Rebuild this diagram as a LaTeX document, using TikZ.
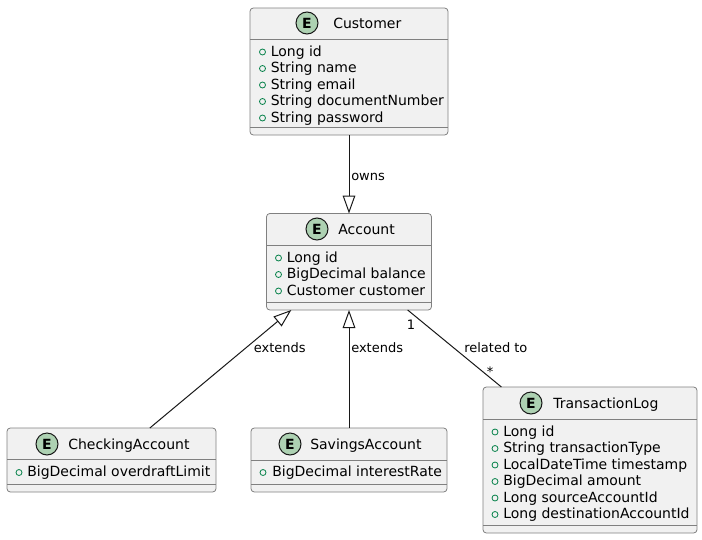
\documentclass[tikz,border=0pt]{standalone}
\usepackage{fontspec}
\setmainfont{DejaVu Sans}
\usetikzlibrary{arrows.meta}
\definecolor{boxfill}{HTML}{F1F1F1}
\definecolor{boxline}{HTML}{181818}
\definecolor{boxedge}{HTML}{808080}
\definecolor{badgefill}{HTML}{ADD1B2}
\definecolor{fieldgreen}{HTML}{038048}

\begin{document}
\begin{tikzpicture}[
      x=0.75pt, y=-0.75pt,
      entity/.style={draw=boxedge, fill=boxfill, rounded corners=2.5pt, line width=0.6pt, inner sep=0pt, outer sep=0pt},
      sepline/.style={draw=boxedge, line width=0.6pt},
      badge/.style={circle, draw=boxline, fill=badgefill, line width=0.75pt, minimum size=16.5pt, inner sep=0pt, font=\fontsize{10.5}{12}\selectfont\bfseries},
      heading/.style={anchor=base west, inner sep=0pt, font=\fontsize{10.5}{12}\selectfont},
      attr/.style={anchor=base west, inner sep=0pt, font=\fontsize{10.5}{12}\selectfont},
      field/.style={draw=fieldgreen, line width=0.6pt},
      lbl/.style={inner sep=0pt, font=\fontsize{9.75}{11}\selectfont},
      conn/.style={draw=boxline, line width=0.75pt},
      >={Triangle[open, length=13.5pt, width=9.5pt]}
    ]
    \useasboundingbox (0,0) rectangle (702,539);

    % Customer
    \node[entity, minimum width=148.5pt, minimum height=95.25pt] (cust) at (349,71.5) {};
    \draw[sepline] (250,39) -- (448,39);
    \draw[sepline] (250,127) -- (448,127);
    \node[badge] (cust-e) at (307,23) {E};
    \node[heading] (cust-t) at (333,28.5) {Customer};
    \foreach \txt [count=\i] in {Long id, String name, String email, String documentNumber, String password} {
      \node[attr] (cust-a\i) at (270.5,39.5+16.5*\i) {\txt};
      \draw[field] (262.5,35.5+16.5*\i) circle[radius=2.25pt];
    }

    % Account
    \node[entity, minimum width=123.75pt, minimum height=72.375pt] (acct) at (349,261.75) {};
    \draw[sepline] (266.5,245) -- (431.5,245);
    \draw[sepline] (266.5,302) -- (431.5,302);
    \node[badge] (acct-e) at (317,229) {E};
    \node[heading] (acct-t) at (338,234.5) {Account};
    \foreach \txt [count=\i] in {Long id, BigDecimal balance, Customer customer} {
      \node[attr] (acct-a\i) at (286.5,245.5+16.5*\i) {\txt};
      \draw[field] (278.5,241.5+16.5*\i) circle[radius=2.25pt];
    }

    % CheckingAccount
    \node[entity, minimum width=156.75pt, minimum height=48pt] (chk) at (111.5,460) {};
    \draw[sepline] (7,459) -- (216,459);
    \draw[sepline] (7,484) -- (216,484);
    \node[badge] (chk-e) at (47,444) {E};
    \node[heading] (chk-t) at (68,449) {CheckingAccount};
    \node[attr] (chk-a1) at (27,476.5) {BigDecimal overdraftLimit};
    \draw[field] (19,472.5) circle[radius=2.25pt];

    % SavingsAccount
    \node[entity, minimum width=147pt, minimum height=48pt] (sav) at (349,460) {};
    \draw[sepline] (251,460) -- (447,460);
    \draw[sepline] (251,484) -- (447,484);
    \node[badge] (sav-e) at (290,444) {E};
    \node[heading] (sav-t) at (310,449) {SavingsAccount};
    \node[attr] (sav-a1) at (272,476.5) {BigDecimal interestRate};
    \draw[field] (263,472.5) circle[radius=2.25pt];

    % TransactionLog
    \node[entity, minimum width=160.5pt, minimum height=109.5pt] (tlog) at (590,460) {};
    \draw[sepline] (483,419) -- (697,419);
    \draw[sepline] (483,525) -- (697,525);
    \node[badge] (tlog-e) at (531,403) {E};
    \node[heading] (tlog-t) at (553,408) {TransactionLog};
    \foreach \txt [count=\i] in {Long id, String transactionType, LocalDateTime timestamp, BigDecimal amount, Long sourceAccountId, Long destinationAccountId} {
      \node[attr] (tlog-a\i) at (503,419.5+16.5*\i) {\txt};
      \draw[field] (495,415.5+16.5*\i) circle[radius=2.25pt];
    }

    % relations
    \draw[conn,->] (cust) -- (acct);
    \draw[conn,->] (chk) -- (acct);
    \draw[conn,->] (sav) -- (acct);
    \draw[conn] (acct) -- (tlog);

    \node[lbl, anchor=base west] (owns) at (351,180) {owns};
    \node[lbl, anchor=base east] (ext-chk) at (306,352.5) {extends};
    \node[lbl, anchor=base west] (ext-sav) at (351,352.5) {extends};
    \node[lbl, anchor=base west] (rel) at (464,352.5) {related to};
    \node[lbl, anchor=base] (rel-one) at (411,329.5) {1};
    \node[lbl, anchor=base] (rel-many) at (490,376) {*};
  \end{tikzpicture}
\end{document}
